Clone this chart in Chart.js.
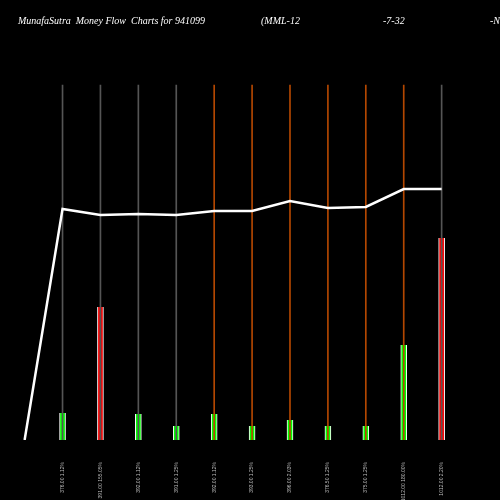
<!DOCTYPE html><html><head><script src="https://cdn.jsdelivr.net/npm/chart.js@4"></script>
<style>html,body{margin:0;background:#000}canvas{display:block}</style></head><body>
<canvas id="c" width="500" height="500" style="width:500px;height:500px"></canvas>
<script>
const tickLabels=["","376.00 1.12%","391.00 155.05%","392.00 1.12%","391.00 1.25%","392.00 1.12%","393.00 1.25%","396.00 2.03%","376.50 1.25%","375.00 1.25%","1012.00 180.00%","1012.00 2.20%"];
const volumes=[null,27,133,26,14,26,14,20,14,14,95,202];
const volColors=[null,"#00ff00","#ff0000","#00ff00","#00ff00","#00ff00","#00ff00","#00ff00","#00ff00","#00ff00","#00ff00","#ff0000"];
const flow=[0,231,225,226,225,229,229,239,232,233,251,251];
const gridColors=[null,"#555","#555","#555","#555","#b34700","#b34700","#b34700","#b34700","#b34700","#b34700","#555"];
const gridTop=355;
const idx=tickLabels.map((_,i)=>i);
new Chart(document.getElementById('c'),{
data:{datasets:[
{type:'line',data:idx.map(i=>({x:i,y:flow[i]})),borderColor:'#fff',borderWidth:2.5,pointRadius:0,tension:0},
{type:'bar',data:idx.slice(1).map(i=>({x:i,y:[0,gridTop]})),backgroundColor:idx.slice(1).map(i=>gridColors[i]),barThickness:1,grouped:false},
{type:'bar',data:idx.slice(1).map(i=>({x:i,y:volumes[i]})),backgroundColor:idx.slice(1).map(i=>volColors[i]),borderColor:'#fff',borderWidth:{left:1,right:1},barThickness:6,grouped:false}
]},
options:{animation:false,responsive:false,maintainAspectRatio:false,devicePixelRatio:1,
layout:{padding:0},
plugins:{legend:{display:false},tooltip:{enabled:false}},
scales:{
x:{type:'linear',min:-0.05,max:11.94,grid:{display:false},border:{display:false},
afterFit:s=>{s.height=60},
afterBuildTicks:s=>{s.ticks=idx.slice(1).map(v=>({value:v}))},
ticks:{autoSkip:false,maxRotation:90,minRotation:90,color:'#bbb',font:{size:5},padding:14,callback:v=>tickLabels[v]}},
y:{display:false,min:0,max:440}}},
plugins:[{id:'t',afterDraw(c){const x=c.ctx;x.save();x.fillStyle='#fff';x.font='italic 10px "Liberation Serif"';x.textBaseline='middle';
x.fillText('MunafaSutra  Money Flow  Charts for 941099',18,21);x.fillText('(MML-12',261,21);x.fillText('-7-32',383,21);x.fillText('-N',490,21);x.restore();}}]
});
</script></body></html>
